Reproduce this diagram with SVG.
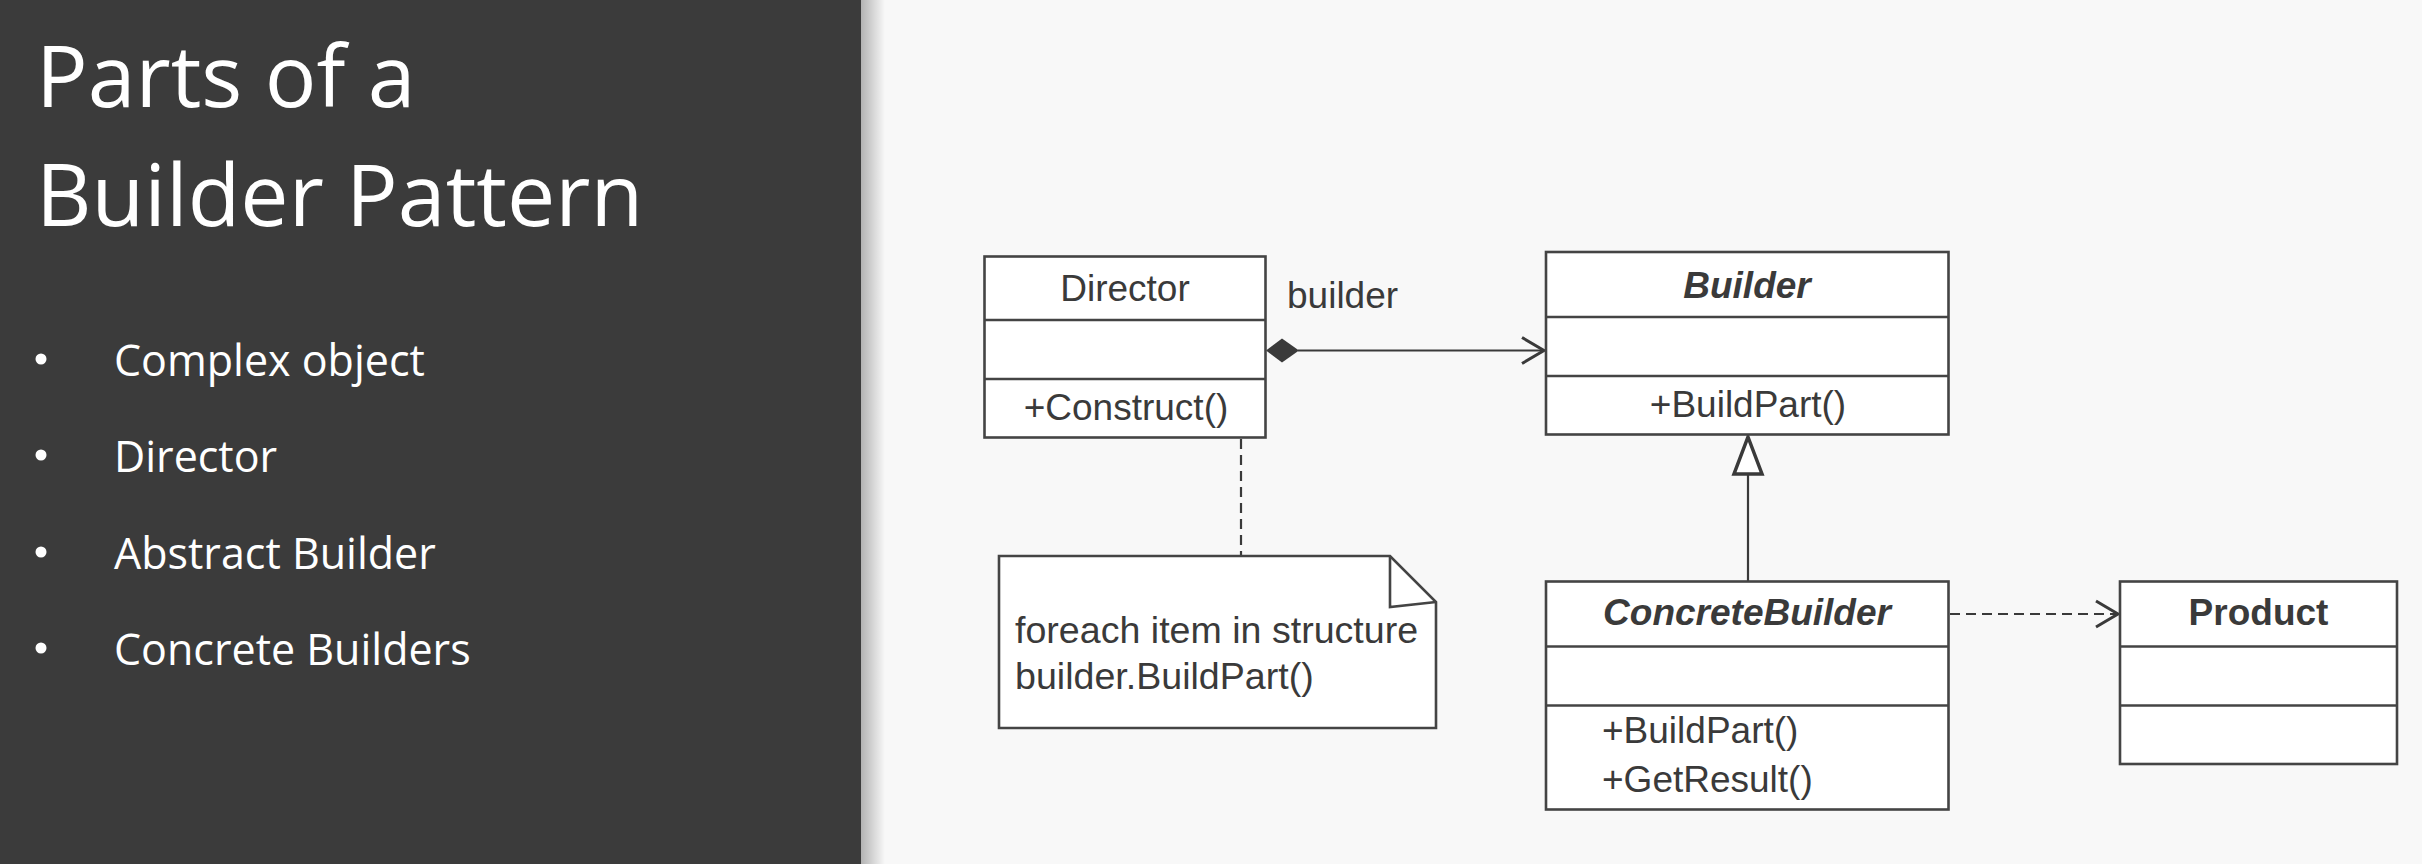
<svg xmlns="http://www.w3.org/2000/svg" width="2422" height="864" viewBox="0 0 2422 864">
<defs>
<linearGradient id="shadow" x1="0" y1="0" x2="1" y2="0">
<stop offset="0" stop-color="#000" stop-opacity="0.28"/>
<stop offset="1" stop-color="#000" stop-opacity="0"/>
</linearGradient>
<marker id="open" markerWidth="30" markerHeight="30" refX="24" refY="15" orient="auto" markerUnits="userSpaceOnUse">
<path d="M2,2 L24,15 L2,28" fill="none" stroke="#3a3a3a" stroke-width="3"/>
</marker>
</defs>
<style>
.title{font-family:"Open Sans","Liberation Sans",sans-serif;font-size:86px;fill:#ffffff}
.bul{font-family:"Open Sans","Liberation Sans",sans-serif;font-size:43px;fill:#ffffff}
.box{fill:#ffffff;stroke:#444444;stroke-width:2.6}
.div{stroke:#444444;stroke-width:2.6}
.t{font-family:"Liberation Sans",Arial,sans-serif;font-size:37px;fill:#3a3a3a}
.n{font-size:37.6px}
.bi{font-weight:bold;font-style:italic}
.b{font-weight:bold}
.line{fill:none;stroke:#3a3a3a;stroke-width:2.2}
</style>
<rect x="0" y="0" width="2422" height="864" fill="#f8f8f8"/>
<rect x="0" y="0" width="861" height="864" fill="#3b3b3b"/>
<rect x="861" y="0" width="24" height="864" fill="url(#shadow)"/>
<g id="title">
<text class="title" x="36" y="107">Parts of a</text>
<text class="title" x="36" y="226">Builder Pattern</text>
</g>
<g id="bullets">
<circle cx="41" cy="359" r="5.5" fill="#fff"/>
<text class="bul" x="114" y="376">Complex object</text>
<circle cx="41" cy="455" r="5.5" fill="#fff"/>
<text class="bul" x="114" y="472">Director</text>
<circle cx="41" cy="552" r="5.5" fill="#fff"/>
<text class="bul" x="114" y="569">Abstract Builder</text>
<circle cx="41" cy="648" r="5.5" fill="#fff"/>
<text class="bul" x="114" y="665">Concrete Builders</text>
</g>
<g id="connectors">
<line class="line" x1="1298" y1="350.5" x2="1544" y2="350.5" marker-end="url(#open)"/>
<path d="M1266,350.5 L1282,338.5 L1299,350.5 L1282,362.5 Z" fill="#3a3a3a"/>
<text class="t" x="1287" y="308">builder</text>
<line class="line" x1="1748" y1="475" x2="1748" y2="581"/>
<path d="M1748,437 L1762,474 L1734,474 Z" fill="#fff" stroke="#3a3a3a" stroke-width="3.5" stroke-linejoin="miter"/>
<line class="line" x1="1950" y1="614" x2="2118" y2="614" stroke-dasharray="10,6" marker-end="url(#open)"/>
<line class="line" x1="1241" y1="439" x2="1241" y2="556" stroke-dasharray="10,6"/>
</g>
<g id="director">
<rect class="box" x="984.5" y="256.5" width="281" height="181"/>
<line class="div" x1="984.5" y1="320" x2="1265.5" y2="320"/>
<line class="div" x1="984.5" y1="379" x2="1265.5" y2="379"/>
<text class="t" x="1125" y="301" text-anchor="middle">Director</text>
<text class="t" x="1126" y="420" text-anchor="middle">+Construct()</text>
</g>
<g id="note">
<path d="M999,556 L1390,556 L1436,602 L1436,728 L999,728 Z" class="box"/>
<path d="M1390,556 L1390,607 L1436,602" fill="none" stroke="#444444" stroke-width="2.6"/>
<text class="t n" x="1015" y="643">foreach item in structure</text>
<text class="t n" x="1015" y="689">builder.BuildPart()</text>
</g>
<g id="builder">
<rect class="box" x="1546" y="252" width="402.5" height="182.5"/>
<line class="div" x1="1546" y1="317" x2="1948.5" y2="317"/>
<line class="div" x1="1546" y1="376" x2="1948.5" y2="376"/>
<text class="t bi" x="1747" y="298" text-anchor="middle">Builder</text>
<text class="t" x="1748" y="417" text-anchor="middle">+BuildPart()</text>
</g>
<g id="concretebuilder">
<rect class="box" x="1546" y="581.5" width="402.5" height="228"/>
<line class="div" x1="1546" y1="646.5" x2="1948.5" y2="646.5"/>
<line class="div" x1="1546" y1="705.5" x2="1948.5" y2="705.5"/>
<text class="t bi" x="1747" y="625" text-anchor="middle">ConcreteBuilder</text>
<text class="t" x="1602" y="743">+BuildPart()</text>
<text class="t" x="1602" y="792">+GetResult()</text>
</g>
<g id="product">
<rect class="box" x="2120" y="581.5" width="277" height="182.5"/>
<line class="div" x1="2120" y1="646.5" x2="2397" y2="646.5"/>
<line class="div" x1="2120" y1="705.5" x2="2397" y2="705.5"/>
<text class="t b" x="2258.5" y="625" text-anchor="middle">Product</text>
</g>
</svg>
